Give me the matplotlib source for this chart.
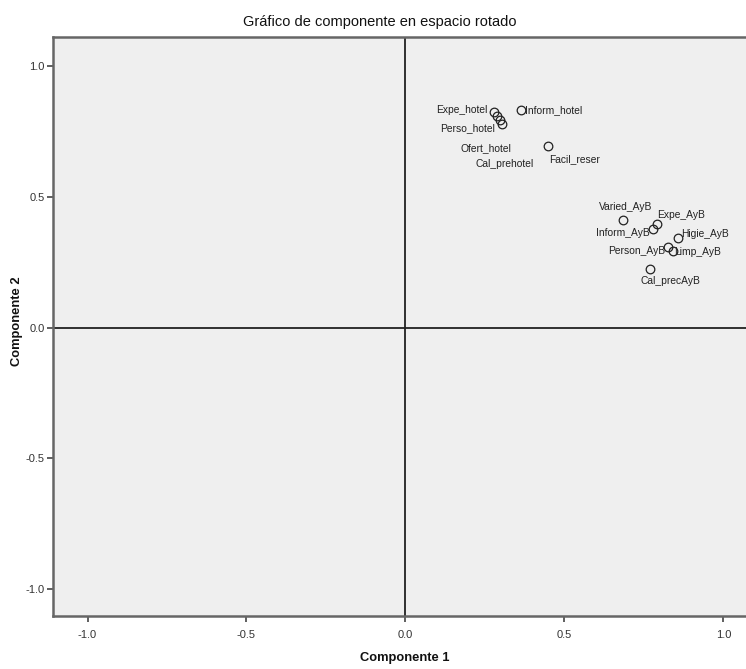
import matplotlib
matplotlib.use('Agg')
import matplotlib.pyplot as plt

plt.rcParams['font.family'] = ['Liberation Sans Narrow', 'Liberation Sans', 'DejaVu Sans']

# component loadings after rotation
labels = ['Expe_hotel', 'Perso_hotel', 'Ofert_hotel', 'Cal_prehotel', 'Inform_hotel',
          'Facil_reser', 'Varied_AyB', 'Expe_AyB', 'Inform_AyB', 'Higie_AyB',
          'Person_AyB', 'Limp_AyB', 'Cal_precAyB']
comp1 = [0.278, 0.288, 0.297, 0.305, 0.362, 0.448, 0.685, 0.790, 0.777, 0.858, 0.826, 0.840, 0.769]
comp2 = [0.824, 0.809, 0.793, 0.778, 0.832, 0.694, 0.411, 0.395, 0.376, 0.341, 0.307, 0.294, 0.224]

# label placement (pixel offsets from each point, alignment)
label_pos = {
    'Expe_hotel': (-6, 2, 'right'),
    'Perso_hotel': (-2, -12, 'right'),
    'Ofert_hotel': (-14, -28, 'center'),
    'Cal_prehotel': (2, -40, 'center'),
    'Inform_hotel': (4, 0, 'left'),
    'Facil_reser': (1, -13, 'left'),
    'Varied_AyB': (2, 13, 'center'),
    'Expe_AyB': (0, 9, 'left'),
    'Inform_AyB': (-3, -4, 'right'),
    'Higie_AyB': (3, 4, 'left'),
    'Person_AyB': (-3, -4, 'right'),
    'Limp_AyB': (2, -1, 'left'),
    'Cal_precAyB': (20, -12, 'center'),
}

W, H = 746, 669
fig = plt.figure(figsize=(W / 100, H / 100), dpi=100)
ax = fig.add_axes([53 / W, 1 - 616 / H, 1 - 53 / W, (616 - 37) / H])
ax.set_facecolor('#efefef')

ax.set_xlim(-1.1085, 1.0708)
ax.set_ylim(-1.103, 1.111)
ax.axvline(0, color='#222222', lw=1.3, zorder=1)
ax.axhline(0, color='#222222', lw=1.3, zorder=1)

ax.plot(comp1, comp2, 'o', ms=6.2, mfc='none', mec='#222222', mew=0.9, zorder=3)
for name, x, y in zip(labels, comp1, comp2):
    dx, dy, ha = label_pos[name]
    ax.annotate(name, (x, y), xytext=(dx, dy), textcoords='offset pixels',
                ha=ha, va='center', fontsize=7.4, color='#222222')

ticks = [-1.0, -0.5, 0.0, 0.5, 1.0]
ax.set_xticks(ticks)
ax.set_yticks(ticks)
ax.set_xticklabels(['%.1f' % t for t in ticks])
ax.set_yticklabels(['%.1f' % t for t in ticks])
ax.tick_params(axis='both', direction='out', length=4, width=1.2, color='#444444',
               labelsize=8, labelcolor='#333333', pad=2)
ax.tick_params(axis='x', pad=6)
for s in ['top', 'left', 'bottom']:
    ax.spines[s].set_color('#666666')
    ax.spines[s].set_linewidth(1.8)
ax.spines['right'].set_visible(False)

fig.text(380 / W, 1 - 22 / H, 'Gráfico de componente en espacio rotado',
         ha='center', va='center', fontsize=10.5, color='#111111')
fig.text(405 / W, 1 - 658 / H, 'Componente 1', ha='center', va='center',
         fontsize=9.3, fontweight='bold', color='#111111')
fig.text(17 / W, 1 - 321 / H, 'Componente 2', ha='center', va='center',
         fontsize=9.3, fontweight='bold', rotation=90, color='#111111')

fig.savefig('out.png', dpi=100)
